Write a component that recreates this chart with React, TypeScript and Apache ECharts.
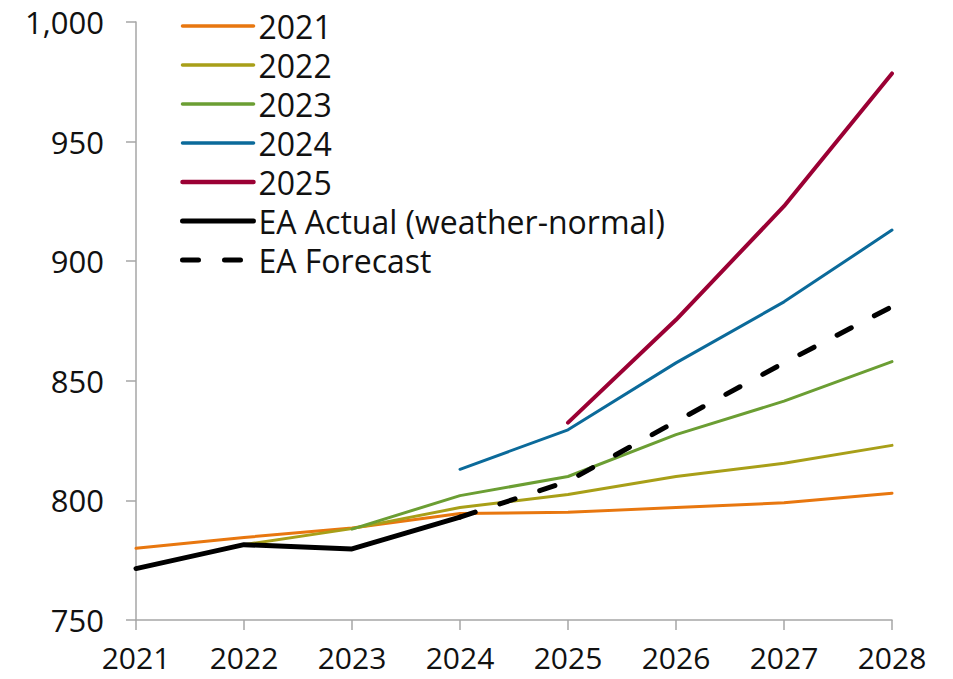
import React, { useEffect, useRef } from "react";
import * as echarts from "echarts";

const years = ["2021", "2022", "2023", "2024", "2025", "2026", "2027", "2028"];
const f2021 = [780, 784.5, 788.5, 794.5, 795, 797, 799, 803];
const f2022 = [null, 781.5, 788.2, 797, 802.5, 810, 815.5, 823];
const f2023 = [null, null, 788, 802, 810, 827.5, 841.5, 858];
const f2024 = [null, null, null, 813, 829.5, 857.5, 883, 913];
const f2025 = [null, null, null, null, 832.5, 875.5, 923, 978.5];
const actual = [771.5, 781.5, 779.7, 793, null, null, null, null];
const forecast = [null, null, null, 793, 808, 833, 857.5, 881];

const seriesNames = ["2021", "2022", "2023", "2024", "2025", "EA Actual (weather-normal)", "EA Forecast"];

const FONT = "Open Sans";

export default function App() {
  const ref = useRef<HTMLDivElement>(null);
  useEffect(() => {
    if (!ref.current) return;
    const chart = echarts.init(ref.current, null, { renderer: "svg" });
    const mk = (name: string, data: (number | null)[], color: string, width: number, type: any = "solid") => ({
      name,
      type: "line",
      data,
      symbol: "none",
      showSymbol: false,
      lineStyle: { color, width, type, cap: "round" },
      itemStyle: { color, opacity: 0 },
      emphasis: { disabled: true },
    });
    const legendWidths = [3.5, 3.5, 3.5, 3.5, 4.5, 5, 5];
    chart.setOption({
      animation: false,
      grid: { left: 136, right: 61, top: 22, bottom: 59 },
      legend: {
        orient: "vertical",
        left: 175,
        top: 5,
        itemWidth: 71,
        itemHeight: 14,
        itemGap: 7,
        itemStyle: { opacity: 0 },
        textStyle: { fontFamily: FONT, fontSize: 32, color: "#111", lineHeight: 32 },
        data: seriesNames.map((n, i) => ({ name: n, lineStyle: { width: legendWidths[i] } })),
      },
      xAxis: {
        type: "category",
        data: years,
        boundaryGap: false,
        axisLine: { lineStyle: { color: "#a6a6a6", width: 1.5 } },
        axisTick: { show: true, length: 10, lineStyle: { color: "#a6a6a6", width: 1.5 } },
        axisLabel: { fontFamily: FONT, fontSize: 30, color: "#111", margin: 26, lineHeight: 22 },
      },
      yAxis: {
        type: "value",
        min: 750,
        max: 1000,
        interval: 50,
        axisLine: { show: true, lineStyle: { color: "#a6a6a6", width: 1.5 } },
        axisTick: { show: true, length: 10, lineStyle: { color: "#a6a6a6", width: 1.5 } },
        splitLine: { show: false },
        axisLabel: {
          fontFamily: FONT,
          fontSize: 31,
          color: "#111",
          margin: 32,
          formatter: (v: number) => v.toLocaleString("en-US"),
        },
      },
      series: [
        mk(seriesNames[0], f2021, "#E8770F", 3),
        mk(seriesNames[1], f2022, "#A89F18", 3),
        mk(seriesNames[2], f2023, "#6B9E33", 3),
        mk(seriesNames[3], f2024, "#0B6A9A", 3),
        mk(seriesNames[4], f2025, "#9B0034", 4),
        mk(seriesNames[5], actual, "#000000", 5),
        mk(seriesNames[6], forecast, "#000000", 5, [16, 26]),
      ],
    });
    return () => chart.dispose();
  }, []);
  return <div ref={ref} style={{ width: 953, height: 679, position: "absolute", left: 0, top: 0 }} />;
}
